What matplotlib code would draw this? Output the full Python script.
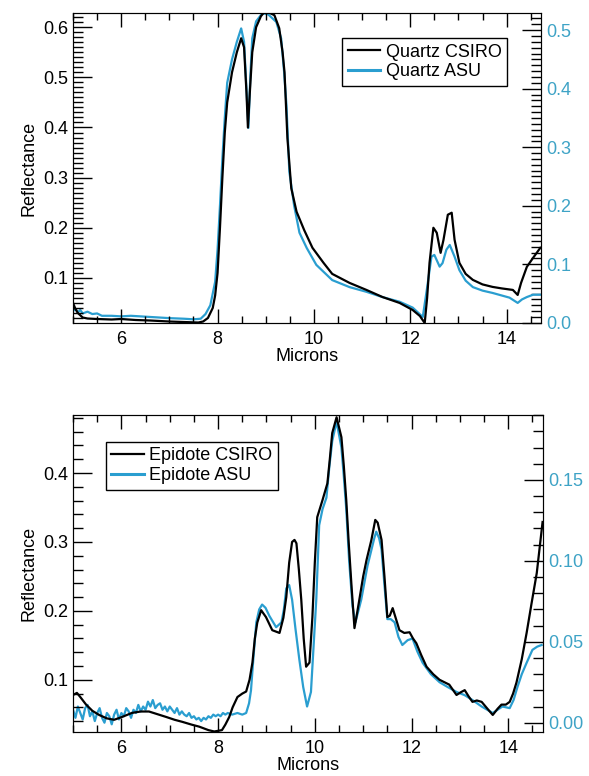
import matplotlib
matplotlib.use('Agg')
import matplotlib.pyplot as plt
from matplotlib.lines import Line2D
from matplotlib.ticker import MultipleLocator, FormatStrFormatter

plt.rcParams['font.family'] = ['Liberation Sans', 'DejaVu Sans']

# ---- Quartz (oben) ----
quarz_csiro_x = [5.0, 5.05, 5.1, 5.2, 5.3, 5.5, 5.8, 6.0, 6.3, 6.6, 7.0, 7.3, 7.6, 7.7, 7.8, 7.9,
                 7.95, 8.0, 8.05, 8.1, 8.15, 8.2, 8.3, 8.4, 8.49, 8.55, 8.6, 8.63, 8.67, 8.72, 8.8,
                 8.9, 8.97, 9.05, 9.18, 9.28, 9.35, 9.39, 9.45, 9.53, 9.64, 9.8, 9.97, 10.2, 10.38,
                 10.74, 11.09, 11.42, 11.78, 12.05, 12.2, 12.3, 12.35, 12.4, 12.48, 12.55, 12.63,
                 12.69, 12.78, 12.86, 12.92, 13.02, 13.15, 13.3, 13.5, 13.71, 13.9, 14.13, 14.23,
                 14.3, 14.42, 14.55, 14.7]
quarz_csiro_y = [0.050, 0.038, 0.030, 0.021, 0.019, 0.018, 0.017, 0.018, 0.016, 0.015, 0.013, 0.012,
                 0.011, 0.013, 0.020, 0.040, 0.065, 0.110, 0.200, 0.300, 0.390, 0.450, 0.510, 0.550,
                 0.578, 0.560, 0.470, 0.400, 0.470, 0.550, 0.600, 0.622, 0.630, 0.630, 0.624, 0.598,
                 0.550, 0.510, 0.379, 0.279, 0.232, 0.195, 0.160, 0.130, 0.108, 0.090, 0.076, 0.062,
                 0.050, 0.036, 0.024, 0.010, 0.060, 0.130, 0.200, 0.190, 0.150, 0.176, 0.226, 0.230,
                 0.176, 0.130, 0.108, 0.096, 0.087, 0.082, 0.079, 0.076, 0.066, 0.090, 0.122, 0.140,
                 0.160]

quarz_asu_x = [5.0, 5.05, 5.1, 5.15, 5.2, 5.3, 5.4, 5.5, 5.6, 5.8, 6.0, 6.2, 6.4, 6.6, 6.8, 7.0,
               7.3, 7.5, 7.65, 7.75, 7.85, 7.95, 8.0, 8.05, 8.1, 8.15, 8.2, 8.3, 8.4, 8.49, 8.55,
               8.6, 8.64, 8.68, 8.72, 8.8, 8.93, 9.05, 9.22, 9.32, 9.38, 9.43, 9.49, 9.59, 9.7,
               9.85, 10.05, 10.38, 10.74, 11.09, 11.42, 11.78, 12.05, 12.26, 12.35, 12.44, 12.5,
               12.61, 12.67, 12.75, 12.82, 12.92, 13.02, 13.15, 13.3, 13.5, 13.71, 14.06, 14.23,
               14.32, 14.42, 14.55, 14.69]
quarz_asu_y = [0.020, 0.024, 0.018, 0.022, 0.016, 0.019, 0.015, 0.016, 0.012, 0.012, 0.011, 0.012,
               0.011, 0.010, 0.009, 0.008, 0.007, 0.006, 0.007, 0.015, 0.030, 0.070, 0.125, 0.200,
               0.280, 0.350, 0.410, 0.450, 0.480, 0.503, 0.480, 0.400, 0.333, 0.420, 0.486, 0.515,
               0.529, 0.527, 0.514, 0.486, 0.430, 0.372, 0.258, 0.200, 0.154, 0.128, 0.099, 0.073,
               0.061, 0.053, 0.044, 0.036, 0.026, 0.010, 0.060, 0.113, 0.116, 0.096, 0.102, 0.125,
               0.133, 0.113, 0.090, 0.072, 0.061, 0.055, 0.051, 0.043, 0.034, 0.040, 0.044, 0.048,
               0.048]

# ---- Epidot (unten) ----
epidot_csiro_x = [5.0, 5.08, 5.15, 5.27, 5.4, 5.54, 5.7, 5.85, 6.01, 6.22, 6.4, 6.57, 6.75, 6.93,
                  7.1, 7.26, 7.45, 7.61, 7.8, 7.92, 8.08, 8.15, 8.23, 8.3, 8.4, 8.5, 8.58, 8.65,
                  8.71, 8.76, 8.81, 8.89, 8.99, 9.12, 9.27, 9.35, 9.41, 9.47, 9.53, 9.58, 9.62,
                  9.67, 9.72, 9.77, 9.82, 9.89, 9.95, 10.0, 10.05, 10.16, 10.26, 10.31, 10.36,
                  10.45, 10.55, 10.6, 10.65, 10.7, 10.76, 10.82, 10.87, 10.92, 11.0, 11.07, 11.17,
                  11.25, 11.3, 11.38, 11.44, 11.5, 11.55, 11.61, 11.68, 11.75, 11.85, 11.96, 12.03,
                  12.1, 12.2, 12.31, 12.45, 12.58, 12.78, 12.93, 13.02, 13.1, 13.18, 13.26, 13.35,
                  13.45, 13.57, 13.68, 13.78, 13.86, 13.95, 14.03, 14.1, 14.17, 14.28, 14.38,
                  14.48, 14.59, 14.71]
epidot_csiro_y = [0.078, 0.081, 0.075, 0.064, 0.055, 0.049, 0.044, 0.042, 0.046, 0.052, 0.054,
                  0.054, 0.050, 0.046, 0.042, 0.039, 0.035, 0.032, 0.027, 0.025, 0.027, 0.035,
                  0.046, 0.060, 0.075, 0.080, 0.083, 0.100, 0.125, 0.160, 0.183, 0.201, 0.191,
                  0.172, 0.168, 0.190, 0.220, 0.270, 0.300, 0.303, 0.298, 0.260, 0.216, 0.160,
                  0.119, 0.125, 0.191, 0.270, 0.336, 0.361, 0.385, 0.420, 0.458, 0.481, 0.452,
                  0.410, 0.361, 0.300, 0.235, 0.175, 0.195, 0.216, 0.250, 0.274, 0.303, 0.332,
                  0.328, 0.303, 0.250, 0.191, 0.193, 0.204, 0.188, 0.172, 0.168, 0.169, 0.160,
                  0.153, 0.136, 0.119, 0.108, 0.100, 0.093, 0.078, 0.082, 0.085, 0.076, 0.068,
                  0.070, 0.068, 0.058, 0.049, 0.058, 0.064, 0.064, 0.068, 0.080, 0.096, 0.130,
                  0.168, 0.210, 0.255, 0.329]

epidot_asu_x = [5.00, 5.05, 5.10, 5.15, 5.20, 5.25, 5.30, 5.35, 5.40, 5.45, 5.50, 5.55, 5.60,
                5.65, 5.70, 5.75, 5.80, 5.85, 5.90, 5.95, 6.00, 6.05, 6.10, 6.15, 6.20, 6.25,
                6.30, 6.35, 6.40, 6.45, 6.50, 6.55, 6.60, 6.65, 6.70, 6.75, 6.80, 6.85, 6.90,
                6.95, 7.00, 7.05, 7.10, 7.15, 7.20, 7.25, 7.30, 7.35, 7.40, 7.45, 7.50, 7.55,
                7.60, 7.65, 7.70, 7.75, 7.80, 7.85, 7.90, 7.95, 8.00, 8.05, 8.10, 8.15, 8.20,
                8.29, 8.4, 8.5, 8.58, 8.64, 8.68, 8.73, 8.79, 8.85, 8.91, 8.98, 9.06, 9.2, 9.31,
                9.36, 9.41, 9.47, 9.53, 9.6, 9.68, 9.76, 9.84, 9.92, 9.97, 10.03, 10.09, 10.16,
                10.24, 10.3, 10.36, 10.45, 10.55, 10.6, 10.65, 10.71, 10.78, 10.84, 10.96, 11.09,
                11.23, 11.27, 11.33, 11.38, 11.44, 11.5, 11.57, 11.65, 11.73, 11.81, 11.92, 12.02,
                12.12, 12.23, 12.4, 12.58, 12.75, 12.93, 13.1, 13.26, 13.45, 13.68, 13.78, 13.88,
                14.03, 14.11, 14.19, 14.28, 14.38, 14.5, 14.6, 14.69]
epidot_asu_y = [0.008, 0.003, 0.010, 0.006, 0.002, 0.009, 0.011, 0.004, 0.007, 0.001, 0.006,
                0.009, 0.003, 0.000, 0.006, 0.004, -0.001, 0.005, 0.008, 0.002, 0.006, 0.004,
                0.009, 0.007, 0.003, 0.008, 0.006, 0.011, 0.007, 0.010, 0.008, 0.013, 0.010,
                0.014, 0.009, 0.011, 0.012, 0.008, 0.010, 0.007, 0.010, 0.008, 0.006, 0.009,
                0.005, 0.007, 0.005, 0.004, 0.006, 0.003, 0.004, 0.002, 0.003, 0.001, 0.003,
                0.002, 0.004, 0.003, 0.005, 0.004, 0.005, 0.004, 0.006, 0.005, 0.006,
                0.005, 0.006, 0.005, 0.006, 0.012, 0.020, 0.040, 0.062, 0.070, 0.073, 0.071,
                0.066, 0.059, 0.062, 0.070, 0.083, 0.085, 0.076, 0.058, 0.039, 0.022, 0.010,
                0.019, 0.045, 0.076, 0.122, 0.132, 0.139, 0.158, 0.174, 0.186, 0.170, 0.152,
                0.132, 0.100, 0.072, 0.062, 0.076, 0.097, 0.114, 0.118, 0.114, 0.107, 0.085,
                0.064, 0.064, 0.062, 0.053, 0.048, 0.051, 0.052, 0.044, 0.037, 0.030, 0.025,
                0.022, 0.019, 0.017, 0.014, 0.010, 0.006, 0.008, 0.010, 0.009, 0.014, 0.022,
                0.030, 0.037, 0.045, 0.047, 0.048]

farbe_asu = '#2a9ed0'
farbe_achse = '#3ea3c6'


def panel(pos, csiro_x, csiro_y, asu_x, asu_y, ylim_l, ylim_r, l_major, l_minor,
          r_major, r_minor, l_fmt, r_fmt, labels, leg_loc, leg_anchor):
    ax = fig.add_axes(pos)
    ax2 = ax.twinx()
    ax.set_zorder(ax2.get_zorder() + 1)
    ax.patch.set_visible(False)

    ax2.plot(asu_x, asu_y, color=farbe_asu, lw=1.6)
    ax.plot(csiro_x, csiro_y, color='black', lw=1.6)

    ax.set_xlim(5.0, 14.72)
    ax.set_ylim(*ylim_l)
    ax2.set_ylim(*ylim_r)

    ax.xaxis.set_major_locator(MultipleLocator(2))
    ax.xaxis.set_minor_locator(MultipleLocator(0.5))
    ax.yaxis.set_major_locator(MultipleLocator(l_major))
    ax.yaxis.set_minor_locator(MultipleLocator(l_minor))
    ax.yaxis.set_major_formatter(FormatStrFormatter(l_fmt))
    ax2.yaxis.set_major_locator(MultipleLocator(r_major))
    ax2.yaxis.set_minor_locator(MultipleLocator(r_minor))
    ax2.yaxis.set_major_formatter(FormatStrFormatter(r_fmt))

    ax.tick_params(axis='x', which='both', direction='in', top=True, labelsize=13, pad=6)
    ax.tick_params(axis='x', which='major', length=10, width=1)
    ax.tick_params(axis='x', which='minor', length=5, width=1)
    ax.tick_params(axis='y', which='both', direction='in', right=False, labelsize=13)
    ax.tick_params(axis='y', which='major', length=14, width=1)
    ax.tick_params(axis='y', which='minor', length=7, width=1)
    ax2.tick_params(axis='y', which='both', direction='in', labelsize=13, labelcolor=farbe_achse)
    ax2.tick_params(axis='y', which='major', length=14, width=1)
    ax2.tick_params(axis='y', which='minor', length=7, width=1)

    for s in ax2.spines.values():
        s.set_color('#333333')
    ax.set_xlabel('Microns', fontsize=13, labelpad=0)
    ax.set_ylabel('Reflectance', fontsize=13)

    handles = [Line2D([], [], color='black', lw=1.6), Line2D([], [], color=farbe_asu, lw=2.2)]
    leg = ax.legend(handles, labels, loc=leg_loc, bbox_to_anchor=leg_anchor, fontsize=13,
                    frameon=True, fancybox=False, framealpha=1, edgecolor='black',
                    handlelength=1.8, handletextpad=0.3, labelspacing=0.15, borderpad=0.3,
                    borderaxespad=0)
    leg.get_frame().set_linewidth(1.0)
    return ax


fig = plt.figure(figsize=(5.89, 7.76), dpi=100)

panel([0.124, 0.584, 0.795, 0.399], quarz_csiro_x, quarz_csiro_y, quarz_asu_x, quarz_asu_y,
      (0.0104, 0.628), (0.0, 0.529), 0.1, 0.01, 0.1, 0.01, '%.1f', '%.1f',
      ['Quartz CSIRO', 'Quartz ASU'], 'upper right', (0.927, 0.919))

panel([0.124, 0.057, 0.798, 0.408], epidot_csiro_x, epidot_csiro_y, epidot_asu_x, epidot_asu_y,
      (0.0246, 0.484), (-0.0056, 0.19), 0.1, 0.02, 0.05, 0.01, '%.1f', '%.2f',
      ['Epidote CSIRO', 'Epidote ASU'], 'upper left', (0.07, 0.915))

fig.savefig('out.png', dpi=100)
